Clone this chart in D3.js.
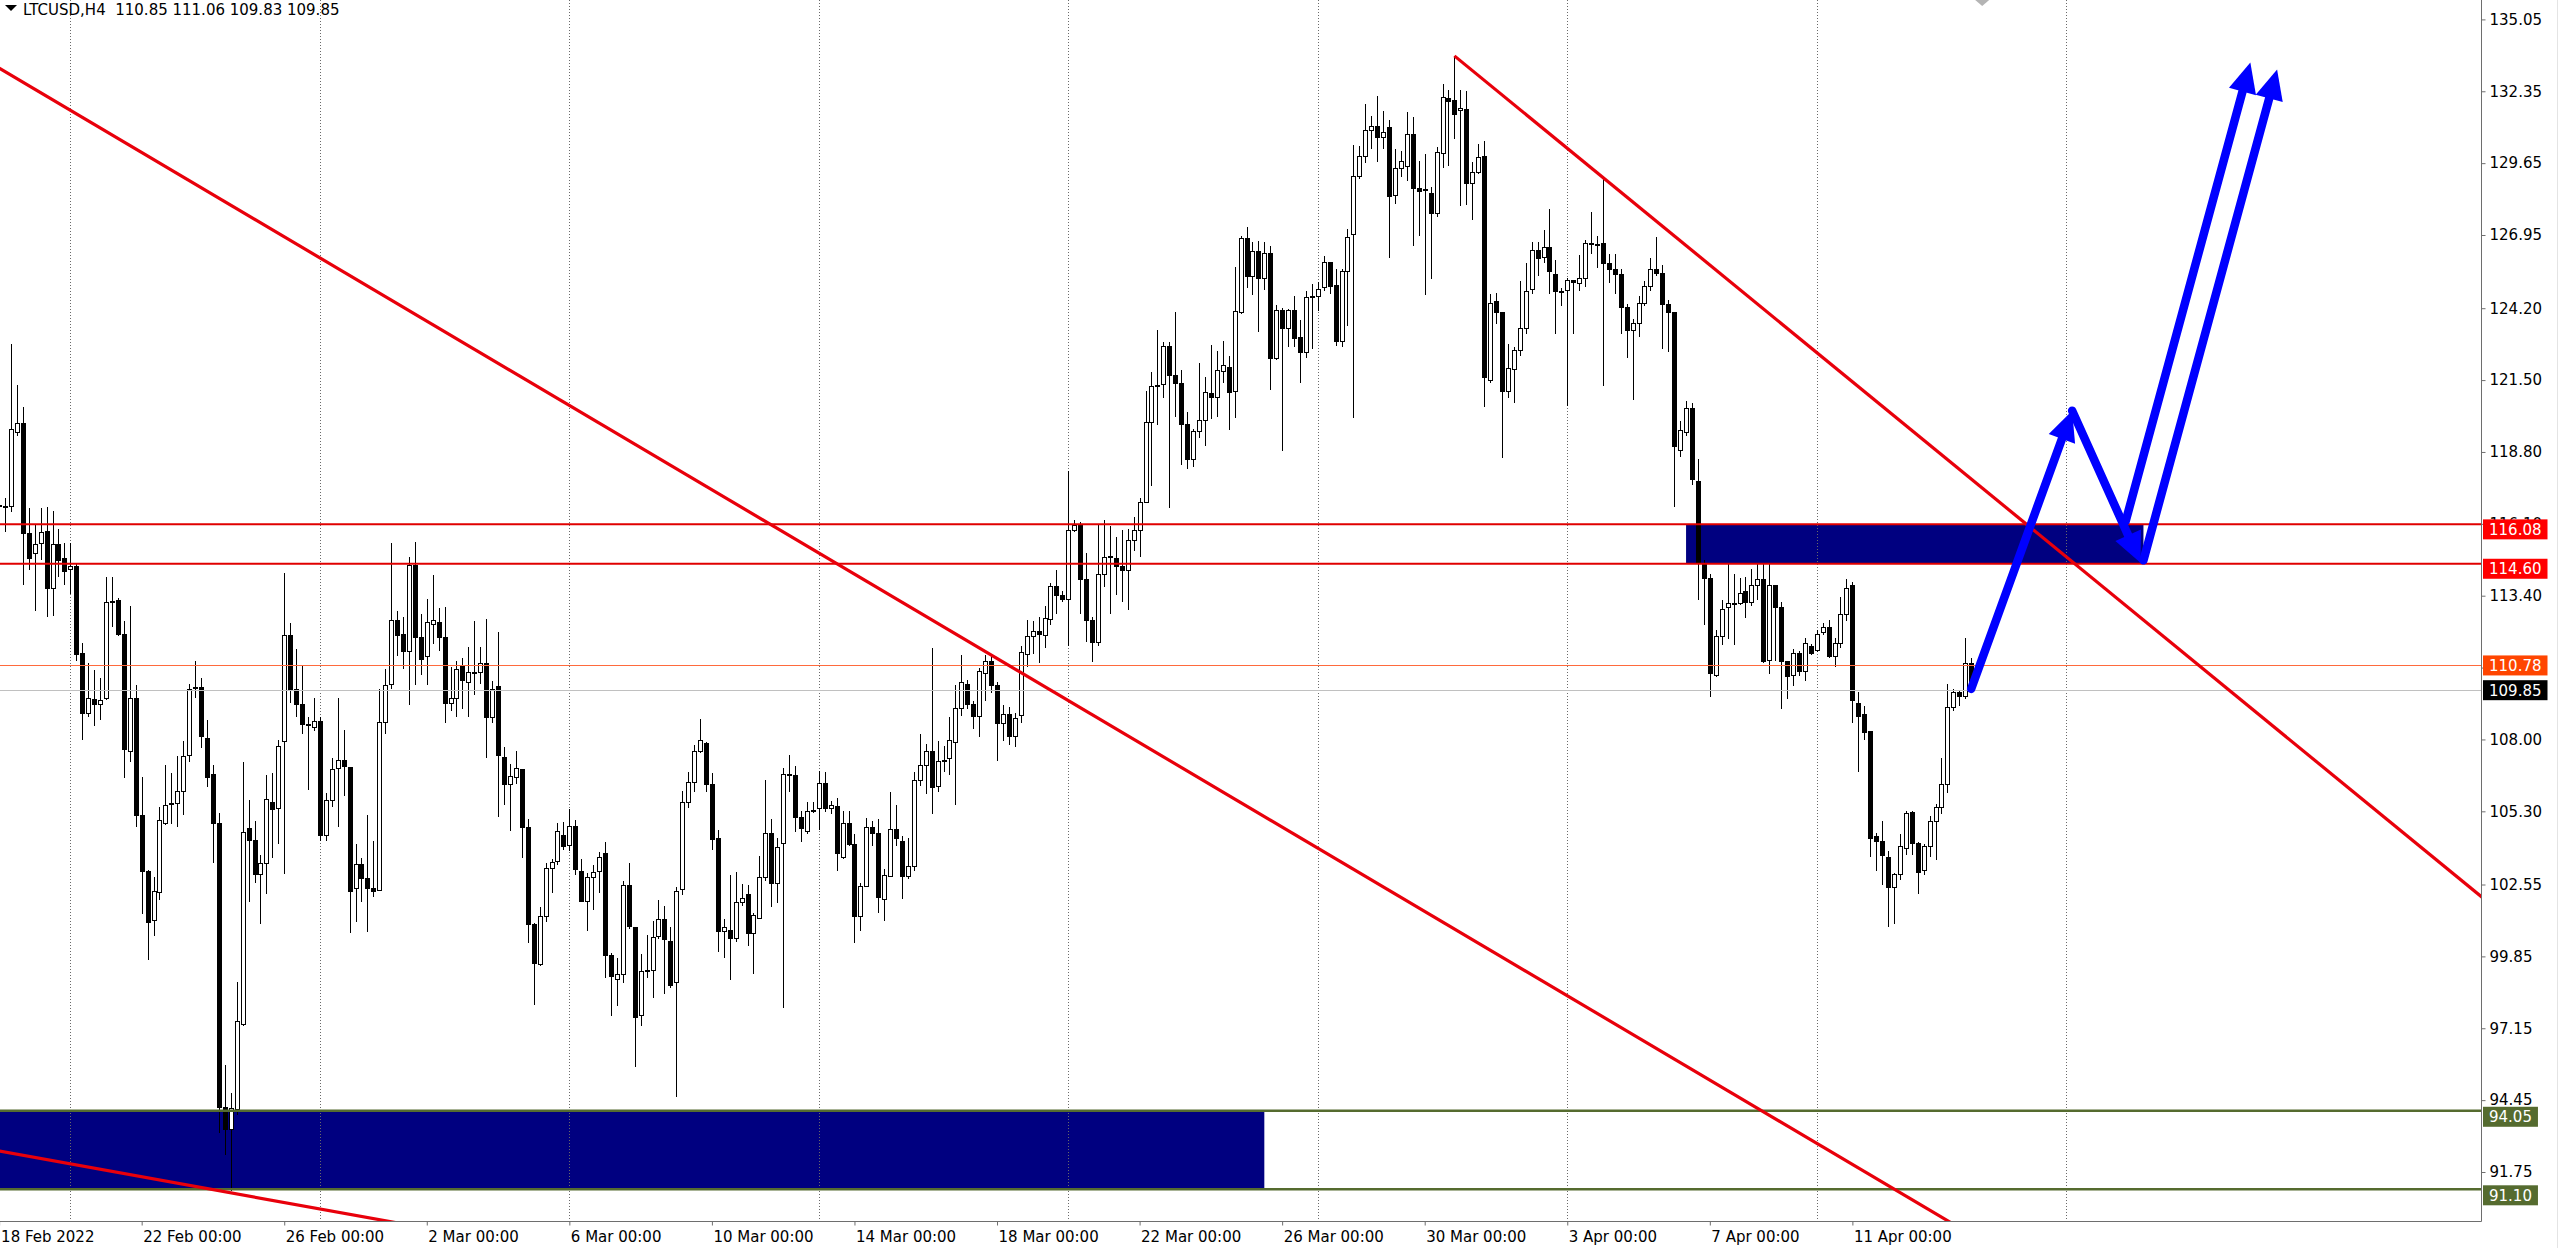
<!DOCTYPE html>
<html>
<head>
<meta charset="utf-8">
<script src="https://cdn.jsdelivr.net/npm/d3@7"></script>
<style>
  body { margin: 0; background: #fff; }
  svg { display: block; font-family: "DejaVu Sans", sans-serif; }
</style>
</head>
<body>
<svg id="chart" width="2560" height="1248"></svg>
<script>
// LTCUSD H4 bars (first bar 18 Feb 2022 00:00 UTC)
var symbol = "LTCUSD,H4";
var firstBar = Date.UTC(2022, 1, 18, 0);
var barHours = 4;

var opens = [116.78,116.74,116.76,119.52,119.86,115.75,114.99,115.37,115.83,113.68,
115.31,114.78,114.38,114.51,111.22,108.98,109.51,109.32,109.53,113.16,
113.22,111.95,107.53,109.53,105.15,103.04,101.18,102.24,104.83,105.55,
105.61,106.03,107.40,109.93,109.97,108.03,106.68,104.83,94.18,93.34,
94.08,97.30,104.66,104.20,102.93,103.35,105.63,105.42,107.93,111.89,
109.87,109.30,108.56,108.46,108.67,104.41,105.71,106.92,107.21,106.94,
102.41,103.29,102.79,102.41,102.34,108.62,110.06,112.48,111.93,111.30,
114.53,111.83,111.11,112.31,112.38,111.83,109.36,109.53,110.73,110.14,
110.52,110.52,110.86,108.83,109.99,107.31,106.31,106.58,106.86,104.71,
101.04,99.55,101.34,103.15,103.42,104.38,104.01,104.72,103.04,101.90,
102.82,103.04,103.71,99.88,99.00,99.18,102.52,100.92,97.62,99.29,
99.33,100.59,101.23,100.40,98.88,102.37,105.64,106.39,107.53,107.84,
106.31,104.28,100.79,100.81,100.52,101.86,102.18,100.70,101.29,102.82,
104.48,102.60,104.08,106.68,106.64,105.08,104.56,105.30,105.42,106.34,
105.42,105.48,103.56,104.86,104.04,101.34,102.48,104.71,104.48,102.00,
102.85,104.60,104.16,102.85,103.22,106.46,107.02,107.54,106.24,107.16,
107.28,107.87,109.16,110.05,109.31,108.87,110.47,110.92,110.03,108.61,
108.95,108.10,108.90,111.20,111.86,112.07,111.91,112.49,113.73,113.41,
113.25,115.86,116.02,114.01,112.46,111.64,114.20,114.83,114.80,114.49,
114.36,115.47,115.86,116.92,119.89,121.27,121.32,122.77,121.68,121.39,
119.85,118.52,119.58,119.97,121.00,120.84,121.84,121.98,121.08,124.04,
126.82,125.39,126.33,125.30,126.26,122.31,124.13,123.45,124.13,123.09,
122.53,124.60,124.64,124.98,125.90,125.06,122.94,125.58,126.98,129.14,
129.90,130.88,131.04,130.60,130.99,128.43,129.46,129.54,130.72,128.71,
128.67,128.51,127.77,130.01,132.07,131.99,131.64,131.67,128.87,129.30,
129.89,121.50,124.47,124.03,121.07,121.88,122.61,123.45,124.91,126.36,
126.10,126.48,125.46,124.81,124.85,125.23,125.14,125.33,126.63,126.61,
126.63,125.87,125.65,125.48,124.24,123.35,123.64,124.37,125.02,125.67,
125.52,124.33,124.03,118.85,119.54,120.44,117.70,114.60,114.06,110.42,
111.87,112.97,113.10,113.10,113.54,113.16,113.79,114.02,110.95,113.79,
112.97,110.92,110.42,111.24,110.57,111.49,111.34,112.01,112.20,111.11,
111.62,112.68,113.79,109.36,108.94,108.31,104.34,104.15,103.58,102.43,
102.91,103.90,105.26,104.09,103.06,103.96,104.92,105.43,106.32,109.19,
109.77,109.61,110.85];

var highs = [116.95,117.06,122.85,121.31,120.49,116.68,116.11,116.68,116.72,116.59,
115.90,115.37,115.37,114.63,111.64,110.88,110.61,110.31,114.10,114.10,
113.30,112.46,113.01,110.06,106.58,103.10,102.83,105.46,107.04,106.73,
107.36,107.93,110.10,110.94,110.31,108.73,107.04,105.25,95.77,94.71,
98.88,107.15,105.71,104.94,103.67,106.66,106.73,107.99,114.27,112.38,
111.41,110.77,108.83,109.57,108.83,105.99,107.32,109.57,108.35,106.98,
104.09,103.56,105.15,104.20,109.89,110.63,115.37,112.84,112.59,114.84,
115.41,112.73,113.26,114.19,112.95,112.99,110.73,110.94,111.05,111.47,
112.46,111.47,112.52,110.21,112.05,107.72,107.08,107.57,106.90,105.00,
101.10,101.71,103.34,103.49,104.86,104.90,105.39,104.97,103.49,102.97,
103.27,103.79,104.16,99.98,99.78,102.67,103.37,100.95,99.95,100.64,
101.19,101.97,101.74,100.96,102.45,106.06,106.76,107.80,108.76,107.90,
106.73,104.60,101.26,102.92,103.01,102.57,102.52,101.48,103.64,106.46,
105.00,104.31,106.91,107.43,107.02,105.30,105.64,105.64,106.83,106.79,
105.69,105.79,105.30,105.30,104.45,102.60,105.05,104.95,105.00,103.12,
106.01,105.52,104.38,104.31,106.79,108.21,107.83,111.44,107.95,107.77,
108.84,110.05,111.18,110.25,109.46,110.69,111.17,111.17,110.14,109.30,
109.20,109.00,111.51,112.49,112.46,112.59,113.02,113.89,114.36,113.57,
118.07,116.26,116.18,114.99,112.59,116.07,116.23,116.02,115.62,115.86,
115.91,116.34,117.08,121.08,121.79,123.37,122.93,122.93,124.04,121.87,
120.29,119.66,122.14,121.63,122.82,122.58,122.98,122.42,125.74,126.93,
127.24,126.69,126.72,126.69,126.53,124.32,124.20,124.16,124.67,123.77,
124.83,125.11,125.19,126.17,125.93,125.66,125.66,127.17,130.33,130.30,
131.88,131.43,132.19,131.62,131.28,130.17,130.09,131.56,131.39,129.73,
130.01,128.75,130.25,132.62,132.38,133.68,132.38,132.35,129.70,130.36,
130.47,124.75,124.79,124.05,122.84,122.74,125.23,125.90,126.67,126.67,
127.15,127.92,126.00,124.95,125.33,125.25,126.19,126.77,127.82,126.90,
129.07,126.25,126.25,125.67,124.37,123.80,124.66,125.23,126.10,126.86,
125.81,124.52,124.05,119.96,120.73,120.63,118.52,114.75,114.21,112.10,
113.25,114.60,114.21,114.06,114.12,114.40,114.63,114.60,114.63,113.80,
113.16,110.95,111.38,111.34,111.82,111.57,112.10,112.39,112.49,111.82,
113.35,114.02,113.92,109.77,109.27,108.33,104.48,104.92,103.82,103.00,
104.44,105.30,105.30,104.15,104.06,105.11,105.59,107.31,110.09,109.90,
109.84,111.82,111.06];

var lows = [116.55,115.79,116.53,119.40,113.79,114.38,112.84,114.74,112.59,112.63,
114.10,113.79,113.47,110.94,107.99,108.83,108.52,108.73,109.47,112.21,
111.89,106.56,107.15,104.72,101.46,99.73,100.61,101.98,104.80,104.83,
104.72,105.15,107.15,109.57,107.68,106.20,103.35,93.20,92.39,91.02,
93.90,97.24,101.88,102.62,101.08,102.19,103.56,104.09,102.93,109.36,
108.83,108.20,106.09,108.31,104.20,104.20,105.46,104.72,105.88,100.72,
101.14,101.88,100.78,102.09,102.30,108.20,109.89,111.15,110.63,109.30,
110.06,110.42,110.06,111.57,111.32,108.62,109.05,108.83,109.15,108.83,
109.68,110.10,107.32,108.62,105.10,105.54,104.56,106.31,103.56,100.37,
98.02,99.48,101.14,102.23,103.27,103.86,103.82,102.90,101.88,100.82,
101.59,102.23,99.03,97.62,97.99,98.85,100.89,95.69,97.22,99.03,
98.29,100.52,98.44,98.66,94.58,102.15,105.42,106.01,107.50,106.01,
103.86,100.00,99.78,98.96,100.40,101.74,100.25,99.18,101.26,102.70,
101.71,101.86,97.92,106.01,104.53,104.16,104.45,105.25,104.60,105.27,
105.20,103.07,103.49,104.01,100.37,100.82,102.45,104.01,101.48,101.19,
102.82,104.01,102.00,102.75,103.04,106.24,105.94,105.20,106.04,106.76,
106.68,105.54,108.87,109.13,108.39,108.09,109.43,109.73,107.20,107.95,
107.80,107.70,108.60,110.72,111.20,110.88,111.43,112.30,112.70,113.17,
111.51,115.78,112.70,111.67,110.91,111.51,113.73,112.70,113.44,113.17,
112.86,115.07,114.87,116.90,117.52,119.81,120.84,116.70,120.13,118.31,
118.15,118.23,119.34,119.02,120.05,120.13,121.39,119.61,120.08,124.00,
124.95,124.71,123.29,124.87,121.13,122.26,118.82,122.74,122.74,121.39,
122.34,122.66,124.08,124.83,124.72,122.77,122.74,123.53,120.08,129.06,
129.66,130.17,129.70,130.17,126.09,128.11,129.14,128.98,126.53,126.93,
124.71,125.30,127.61,129.46,129.54,130.56,128.03,128.08,127.51,129.25,
120.50,121.40,123.60,118.58,120.83,120.63,122.42,123.22,124.75,125.42,
125.90,124.75,123.22,124.27,120.54,123.22,124.85,124.98,126.25,125.71,
121.27,125.14,124.75,123.22,122.34,120.77,123.12,124.27,124.85,125.42,
122.68,122.55,116.74,118.62,119.39,117.57,113.25,112.30,109.61,110.34,
111.53,111.76,111.53,113.05,112.58,113.02,113.25,110.86,110.47,110.95,
109.13,109.52,109.99,110.38,110.19,111.18,111.30,111.91,111.05,110.72,
111.43,112.45,108.62,106.78,107.98,103.57,103.06,102.52,100.95,101.05,
102.71,103.67,103.67,102.18,102.90,103.58,103.48,105.20,105.97,109.08,
109.27,109.52,109.83];

var closes = [116.74,116.76,119.65,119.86,115.75,114.80,115.31,115.79,113.68,115.31,
114.74,114.32,114.51,111.20,108.98,109.53,109.32,109.47,113.16,113.18,
111.93,107.63,109.53,105.15,103.04,101.14,102.30,104.94,105.50,105.61,
106.03,107.36,109.89,109.97,108.10,106.56,104.83,94.18,93.34,94.12,
97.39,104.51,104.20,102.93,103.35,105.74,105.36,107.72,111.89,109.87,
109.30,108.56,108.54,108.67,104.41,105.71,106.87,107.21,106.98,102.30,
103.29,102.79,102.41,102.30,108.62,110.04,112.48,111.89,111.30,114.53,
111.83,111.01,112.38,112.48,111.83,109.36,109.55,110.63,110.21,110.52,
110.48,110.86,108.83,109.89,107.40,106.31,106.61,106.91,104.71,101.04,
99.60,101.34,103.15,103.39,104.56,103.96,104.72,103.12,101.90,102.82,
103.01,103.56,99.88,99.11,99.18,102.52,100.96,97.55,99.29,99.33,
100.56,101.23,100.47,98.77,102.30,105.64,106.39,107.56,107.95,106.31,
104.23,100.77,100.92,100.52,101.86,102.03,100.70,101.37,102.82,104.48,
102.60,103.93,106.68,106.64,105.08,104.65,105.30,105.33,106.34,105.42,
105.52,103.71,104.83,104.04,101.34,102.48,104.68,104.48,102.08,102.90,
104.60,104.28,102.85,103.22,106.46,107.02,107.54,106.19,107.16,107.20,
107.97,109.16,110.13,109.31,108.87,110.55,110.92,110.03,108.61,108.95,
108.10,108.80,111.28,111.86,112.07,111.93,112.54,113.73,113.41,113.25,
115.86,116.02,114.01,112.46,111.64,114.20,114.83,114.86,114.49,114.36,
115.47,115.86,116.92,119.89,121.27,121.29,122.77,121.68,121.39,119.85,
118.52,119.58,120.00,121.03,120.84,121.87,122.06,121.03,124.08,126.82,
125.39,126.33,125.30,126.26,122.31,124.13,123.45,124.13,123.05,122.53,
124.60,124.64,124.92,125.90,125.00,122.94,125.58,126.85,129.14,129.90,
130.88,131.01,130.60,130.80,128.40,129.46,129.70,130.72,128.71,128.59,
128.63,127.77,130.04,132.10,131.96,131.47,131.70,128.87,129.30,129.85,
121.59,124.37,124.03,121.07,121.92,122.61,123.45,124.81,126.36,126.06,
126.48,125.58,124.81,124.79,125.23,125.18,125.33,126.63,126.61,126.54,
125.87,125.67,125.48,124.24,123.35,123.64,124.37,125.02,125.67,125.52,
124.33,124.03,119.00,119.62,120.44,117.76,114.60,114.06,110.47,111.87,
112.87,113.10,113.12,113.48,113.16,113.79,114.02,110.92,113.79,112.97,
110.92,110.38,111.24,110.57,111.62,111.24,111.95,112.20,111.11,111.62,
112.68,113.68,109.46,108.88,108.27,104.28,104.15,103.63,102.43,102.91,
103.96,105.20,104.09,103.00,103.96,104.92,105.43,106.32,109.19,109.77,
109.61,110.85,109.85];

// axis labels
var priceTicks = [135.05,132.35,129.65,126.95,124.20,121.50,118.80,116.10,113.40,
                  110.70,108.00,105.30,102.55,99.85,97.15,94.45,91.75];
var dateTicks = ["2022-02-18T00:00Z","2022-02-22T00:00Z","2022-02-26T00:00Z","2022-03-02T00:00Z",
                 "2022-03-06T00:00Z","2022-03-10T00:00Z","2022-03-14T00:00Z","2022-03-18T00:00Z",
                 "2022-03-22T00:00Z","2022-03-26T00:00Z","2022-03-30T00:00Z","2022-04-03T00:00Z",
                 "2022-04-07T00:00Z","2022-04-11T00:00Z"];
var gridDays = ["2022-02-20T00:00Z","2022-02-27T00:00Z","2022-03-06T00:00Z","2022-03-13T00:00Z",
                "2022-03-20T00:00Z","2022-03-27T00:00Z","2022-04-03T00:00Z","2022-04-10T00:00Z",
                "2022-04-17T00:00Z"];

// drawn objects
var redLevels = [116.08, 114.60];
var greenLevels = [94.05, 91.10];
var markLevel = 110.78;

var zoneStart = ["2022-04-06T08:00Z", "2022-01-01T00:00Z"];
var zoneEnd   = ["2022-04-19T04:00Z", "2022-03-25T12:00Z"];
var zoneTop   = [116.08, 94.05];
var zoneBot   = [114.60, 91.10];

// trend lines: [time1, price1, time2, price2, extend left]
var trendLines = [
  ["2022-02-18T00:00Z", 133.22, "2022-03-23T08:00Z", 106.82, true],
  ["2022-03-30T20:00Z", 133.68, "2022-04-16T12:00Z", 115.41, false],
  ["2022-02-18T00:00Z", 92.54,  "2022-03-01T00:00Z", 89.88,  true]
];

// forecast arrows: [from time, from price, to time, to price]
var arrows = [
  ["2022-04-14T08:00Z", 109.90, "2022-04-17T04:00Z", 120.35],
  ["2022-04-17T04:00Z", 120.35, "2022-04-19T02:00Z", 114.64],
  ["2022-04-18T16:00Z", 116.19, "2022-04-22T04:00Z", 133.43],
  ["2022-04-19T04:00Z", 114.73, "2022-04-22T22:00Z", 133.17]
];

// ---------------------------------------------------------------
var plotRight = 2481, plotBottom = 1221;
var dayPx = 35.64;

var x = d3.scaleUtc()
  .domain([new Date(firstBar), new Date(firstBar + 69 * 864e5)])
  .range([-0.9, -0.9 + 69 * dayPx]);
var y = d3.scaleLinear().domain([135.05, 91.75]).range([19.4, 1172.0]);
var fmt = d3.format(".2f");

var bars = closes.map(function(c, i) {
  return { t: new Date(firstBar + i * barHours * 36e5), o: opens[i], h: highs[i], l: lows[i], c: c };
});

var svg = d3.select("#chart");
svg.append("rect").attr("width", 2560).attr("height", 1248).attr("fill", "#fff");

svg.append("defs").append("clipPath").attr("id", "plot")
  .append("rect").attr("width", plotRight).attr("height", plotBottom);

var plot = svg.append("g").attr("clip-path", "url(#plot)");

// zones (background)
plot.selectAll("rect.zone").data(zoneTop).enter().append("rect")
  .attr("class", "zone")
  .attr("x", function(d, i) { return x(new Date(zoneStart[i])); })
  .attr("width", function(d, i) { return x(new Date(zoneEnd[i])) - x(new Date(zoneStart[i])); })
  .attr("y", function(d) { return y(d); })
  .attr("height", function(d, i) { return y(zoneBot[i]) - y(d); })
  .attr("fill", "#000080");

// weekly dotted grid
plot.selectAll("line.grid").data(gridDays).enter().append("line")
  .attr("class", "grid")
  .attr("x1", function(d) { return Math.round(x(new Date(d))) + 0.5; })
  .attr("x2", function(d) { return Math.round(x(new Date(d))) + 0.5; })
  .attr("y1", 0).attr("y2", plotBottom)
  .attr("stroke", "#6a6a6a").attr("stroke-dasharray", "1,2");

// candles
var candle = plot.append("g").attr("shape-rendering", "crispEdges");
candle.selectAll("line").data(bars).enter().append("line")
  .attr("x1", function(d) { return Math.round(x(d.t)) + 0.5; })
  .attr("x2", function(d) { return Math.round(x(d.t)) + 0.5; })
  .attr("y1", function(d) { return y(d.h); })
  .attr("y2", function(d) { return y(d.l); })
  .attr("stroke", "#000");
candle.selectAll("rect").data(bars).enter().append("rect")
  .attr("x", function(d) { return Math.round(x(d.t)) - 1.5; })
  .attr("width", 4)
  .attr("y", function(d) { return y(Math.max(d.o, d.c)); })
  .attr("height", function(d) { return Math.max(1, Math.abs(y(d.o) - y(d.c))); })
  .attr("fill", function(d) { return d.c >= d.o ? "#fff" : "#000"; })
  .attr("stroke", "#000");

// horizontal levels
var last = bars[bars.length - 1];
plot.append("line").attr("x1", 0).attr("x2", plotRight)
  .attr("y1", Math.round(y(last.c)) + 0.5).attr("y2", Math.round(y(last.c)) + 0.5)
  .attr("stroke", "#c0c0c0");
plot.append("line").attr("x1", 0).attr("x2", plotRight)
  .attr("y1", Math.round(y(markLevel)) + 0.5).attr("y2", Math.round(y(markLevel)) + 0.5)
  .attr("stroke", "#ff6a3d");
plot.selectAll("line.red").data(redLevels).enter().append("line")
  .attr("x1", 0).attr("x2", plotRight)
  .attr("y1", function(d) { return y(d); }).attr("y2", function(d) { return y(d); })
  .attr("stroke", "#e00000").attr("stroke-width", 2);
plot.selectAll("line.green").data(greenLevels).enter().append("line")
  .attr("x1", 0).attr("x2", plotRight)
  .attr("y1", function(d) { return y(d); }).attr("y2", function(d) { return y(d); })
  .attr("stroke", "#556b2f").attr("stroke-width", 2.5);

// trend lines
trendLines.forEach(function(t) {
  var x1 = x(new Date(t[0])), y1 = y(t[1]), x2 = x(new Date(t[2])), y2 = y(t[3]);
  var k = (y2 - y1) / (x2 - x1);
  var xa = t[4] ? -20 : x1, xb = plotRight + 20;
  plot.append("line")
    .attr("x1", xa).attr("y1", y1 + k * (xa - x1))
    .attr("x2", xb).attr("y2", y1 + k * (xb - x1))
    .attr("stroke", "#e8000b").attr("stroke-width", 3.2);
});

// forecast arrows
var arrowG = plot.append("g");
arrows.forEach(function(a) {
  var x1 = x(new Date(a[0])), y1 = y(a[1]), x2 = x(new Date(a[2])), y2 = y(a[3]);
  var dx = x2 - x1, dy = y2 - y1, len = Math.sqrt(dx * dx + dy * dy);
  var ux = dx / len, uy = dy / len, hl = 30, hw = 14;
  var bx = x2 - ux * hl, by = y2 - uy * hl;
  arrowG.append("line")
    .attr("x1", x1).attr("y1", y1)
    .attr("x2", x2 - ux * hl * 0.7).attr("y2", y2 - uy * hl * 0.7)
    .attr("stroke", "#0000ff").attr("stroke-width", 8.5).attr("stroke-linecap", "round");
  arrowG.append("path")
    .attr("d", "M" + x2 + "," + y2 + "L" + (bx - uy * hw) + "," + (by + ux * hw) +
               "L" + (bx + uy * hw) + "," + (by - ux * hw) + "Z")
    .attr("fill", "#0000ff");
});

// chart-shift marker
var shiftX = x(last.t) + 11;
svg.append("path")
  .attr("d", "M" + (shiftX - 7) + ",0L" + (shiftX + 7) + ",0L" + shiftX + ",6Z")
  .attr("fill", "#b4b4b4");

// frame
svg.append("line").attr("x1", plotRight + 0.5).attr("x2", plotRight + 0.5)
  .attr("y1", 0).attr("y2", plotBottom + 0.5).attr("stroke", "#6e6e6e");
svg.append("line").attr("x1", 0).attr("x2", plotRight + 0.5)
  .attr("y1", plotBottom + 0.5).attr("y2", plotBottom + 0.5).attr("stroke", "#6e6e6e");
svg.append("line").attr("x1", 2557.5).attr("x2", 2557.5)
  .attr("y1", 0).attr("y2", 1248).attr("stroke", "#e4e4e4");

// price axis
var yAxis = d3.axisRight(y).tickValues(priceTicks).tickFormat(fmt).tickSize(4).tickPadding(4);
var yg = svg.append("g").attr("transform", "translate(" + (plotRight + 0.5) + ",0)").call(yAxis);
yg.select(".domain").remove();
yg.selectAll(".tick line").attr("stroke", "#6e6e6e");
yg.selectAll("text").attr("font-size", 15).attr("font-family", "DejaVu Sans").attr("fill", "#000");

// time axis
var dateFmt = d3.utcFormat("%-d %b %H:%M"), firstFmt = d3.utcFormat("%-d %b %Y");
var xAxis = d3.axisBottom(x).tickValues(dateTicks.map(function(d) { return new Date(d); }))
  .tickFormat(function(d, i) { return i === 0 ? firstFmt(d) : dateFmt(d); })
  .tickSize(4).tickPadding(6);
var xg = svg.append("g").attr("transform", "translate(0," + (plotBottom + 0.5) + ")").call(xAxis);
xg.select(".domain").remove();
xg.selectAll(".tick line").attr("stroke", "#6e6e6e");
xg.selectAll("text").attr("font-size", 15).attr("font-family", "DejaVu Sans").attr("fill", "#000")
  .attr("text-anchor", "start").attr("x", function(d, i) { return i === 0 ? 1.5 : 1; });

// price labels on the axis (drawn over the tick labels, as in the terminal)
function priceTag(p, fill, offset) {
  var g = svg.append("g");
  var r = g.append("rect");
  var t = g.append("text").attr("x", plotRight + 8).attr("y", y(p) + offset)
    .attr("dy", "0.36em").attr("font-size", 15).attr("fill", "#fff").text(fmt(p));
  var w = t.node().getComputedTextLength();
  r.attr("x", plotRight + 2).attr("y", y(p) + offset - 10).attr("width", w + 12).attr("height", 20)
    .attr("fill", fill);
}
redLevels.forEach(function(p) { priceTag(p, "#ff0000", 5); });
greenLevels.forEach(function(p) { priceTag(p, "#556b2f", 6); });
priceTag(markLevel, "#ff4500", 0);
priceTag(last.c, "#000000", 0);

// header
svg.append("path").attr("d", "M5,5L17,5L11,11Z").attr("fill", "#000");
svg.append("text").attr("x", 23).attr("y", 15).attr("font-size", 15).attr("fill", "#000")
  .text(symbol + "\u00a0\u00a0" + [last.o, last.h, last.l, last.c].map(fmt).join(" "));
</script>
</body>
</html>
